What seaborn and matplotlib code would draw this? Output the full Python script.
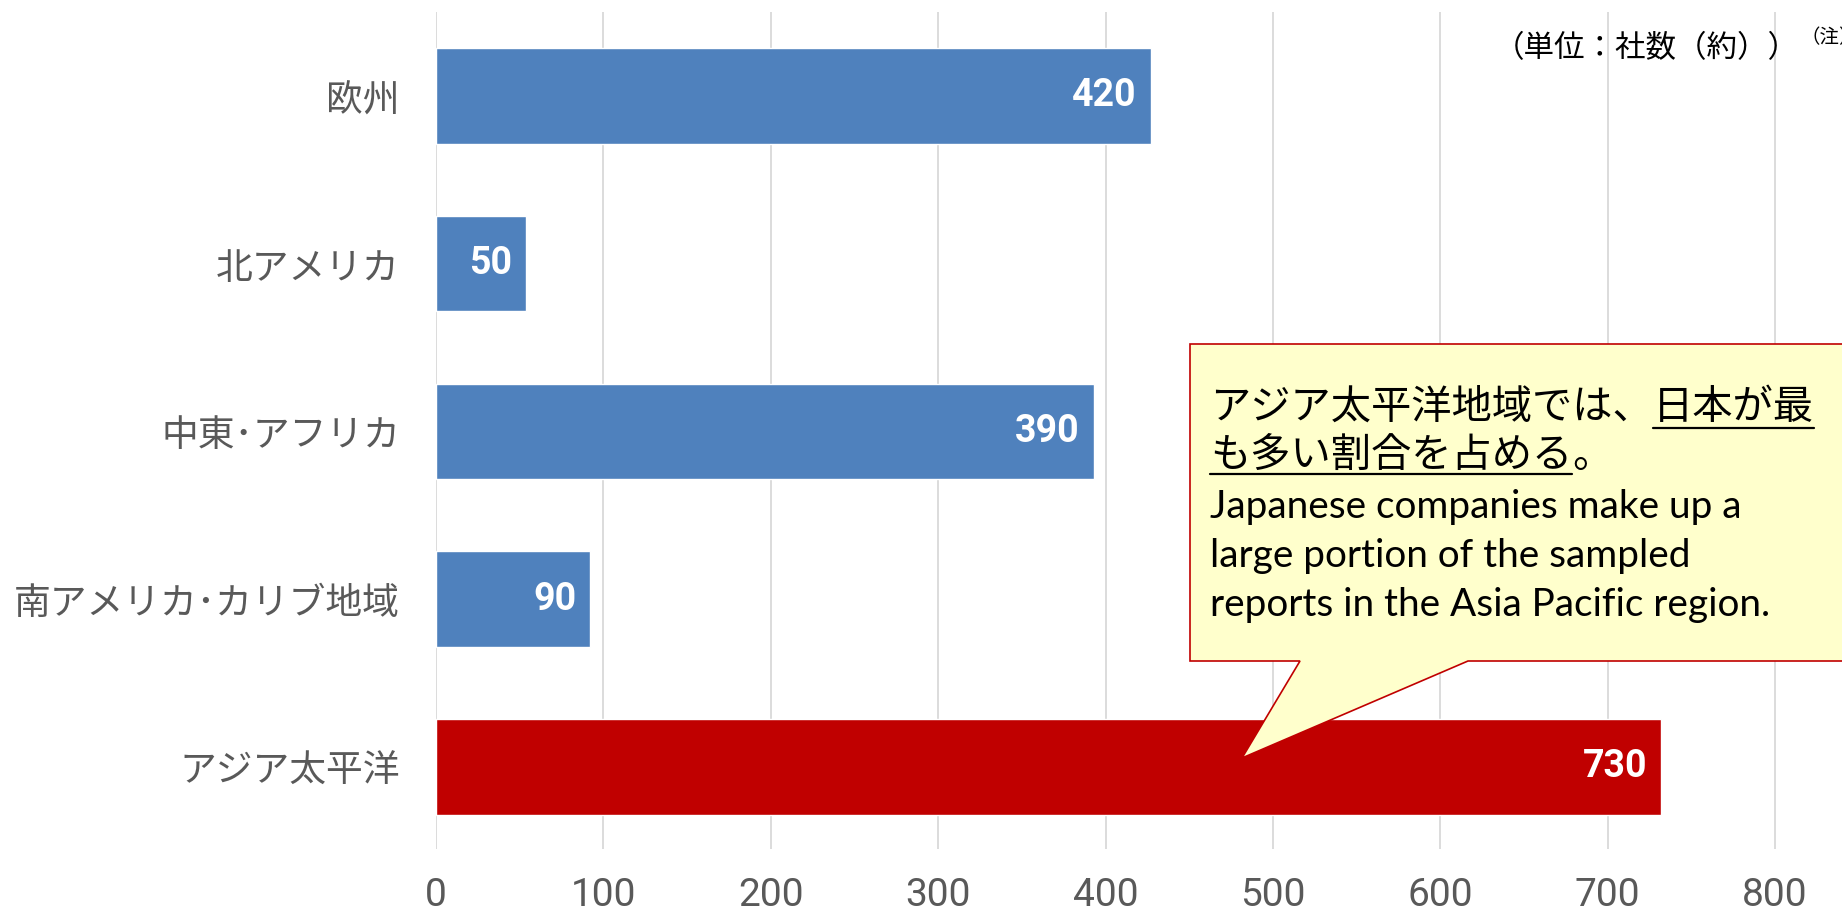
import matplotlib
matplotlib.use("Agg")
import matplotlib.pyplot as plt
import seaborn as sns
import pandas as pd
from matplotlib import font_manager as fm
from matplotlib.patches import Polygon
from matplotlib.lines import Line2D

# ---------------- data ----------------
categories = ["欧州", "北アメリカ", "中東･アフリカ", "南アメリカ･カリブ地域", "アジア太平洋"]
values = [427, 54, 393, 92, 732]
value_labels = ["420", "50", "390", "90", "730"]
bar_colors = ["#4F81BD", "#4F81BD", "#4F81BD", "#4F81BD", "#C00000"]
x_ticks = [0, 100, 200, 300, 400, 500, 600, 700, 800]
unit_label = "（単位：社数（約））"
note_label = "（注）"
callout_jp_1 = "アジア太平洋地域では、"
callout_jp_1u = "日本が最"
callout_jp_2u = "も多い割合を占める"
callout_jp_2 = "。"
callout_en = ["Japanese companies make up a",
              "large portion of the sampled",
              "reports in the Asia Pacific region."]

# ---------------- style ----------------
sns.set_style("white")
JP = "Noto Sans CJK JP"
avail = {f.name for f in fm.fontManager.ttflist}
NUM = "Roboto" if "Roboto" in avail else "DejaVu Sans"
EN = "Lato" if "Lato" in avail else "DejaVu Sans"
plt.rcParams["font.family"] = [JP, "DejaVu Sans"]

W, H = 1842, 913
fig = plt.figure(figsize=(W / 100, H / 100), dpi=100)
ax = fig.add_axes([436 / W, 1 - 849 / H, (W - 436) / W, (849 - 12) / H])

df = pd.DataFrame({"region": categories, "count": values})
sns.barplot(data=df, x="count", y="region", hue="region", palette=bar_colors,
            legend=False, orient="h", width=0.57, saturation=1, ax=ax)

ax.set_xlim(0, 840)
ax.set_ylim(4.49, -0.5)
ax.set_xticks(x_ticks)
ax.set_xticklabels([str(t) for t in x_ticks], fontfamily=NUM, fontsize=28, color="#595959")
ax.tick_params(axis="x", length=0, pad=20)
ax.tick_params(axis="y", length=0, pad=26, labelsize=26.5, labelcolor="#595959")
ax.set_xlabel("")
ax.set_ylabel("")
ax.xaxis.grid(True, color="#D9D9D9", lw=1.3)
ax.yaxis.grid(False)
ax.set_axisbelow(True)
for s in ax.spines.values():
    s.set_visible(False)

# value labels inside bar ends
for patch, lab in zip(ax.patches, value_labels):
    ax.annotate(lab, xy=(patch.get_x() + patch.get_width(), patch.get_y() + patch.get_height() / 2),
                xytext=(-10, 0), textcoords="offset points", ha="right", va="center",
                color="white", fontsize=27, fontweight="bold", fontfamily=NUM)

# unit label
fig.text(1494 / W, 1 - 49 / H, unit_label, ha="left", va="center", fontsize=22, color="black")
fig.text(1800 / W, 1 - 38 / H, note_label, ha="left", va="center", fontsize=14, color="black")

# callout
def P(x, y):
    return (x / W, 1 - y / H)

poly = Polygon([P(1190, 344), P(1900, 344), P(1900, 661), P(1468, 661),
                P(1242, 758), P(1300, 661), P(1190, 661)],
               closed=True, transform=fig.transFigure, facecolor="#FFFFCC",
               edgecolor="#C00000", lw=1.2, zorder=5)
fig.add_artist(poly)

fig.canvas.draw()
r = fig.canvas.get_renderer()

def put(x, y, s, **kw):
    t = fig.text(x / W, 1 - y / H, s, ha="left", va="center", zorder=6, **kw)
    bb = t.get_window_extent(r)
    return t, bb

def underline(bb, y):
    fig.add_artist(Line2D([bb.x0 / W, bb.x1 / W], [1 - y / H, 1 - y / H],
                          transform=fig.transFigure, color="black", lw=1.6, zorder=7))

jp_size = 29
x0 = 1210
t1, b1 = put(x0, 407, callout_jp_1, fontsize=jp_size, color="black")
t2, b2 = put(b1.x1, 407, callout_jp_1u, fontsize=jp_size, color="black")
underline(b2, 428)
t3, b3 = put(x0, 455, callout_jp_2u, fontsize=jp_size, color="black")
underline(b3, 474)
t4, b4 = put(b3.x1, 455, callout_jp_2, fontsize=jp_size, color="black")

# English lines, fit to reference width
probe = fig.text(0, 0, callout_en[2], fontsize=20, family=EN)
pw = probe.get_window_extent(r).width
probe.remove()
en_size = 20 * 562 / pw
for i, line in enumerate(callout_en):
    put(x0, 507 + i * 49, line, fontsize=en_size, family=EN, color="black")

fig.savefig("out.png", dpi=100)
